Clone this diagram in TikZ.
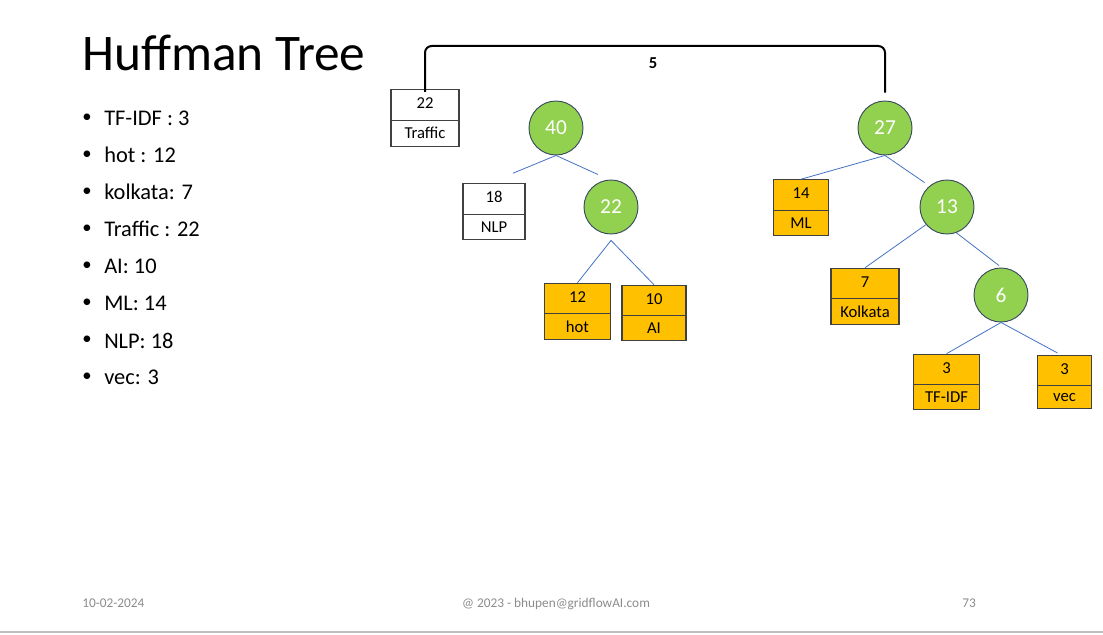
\documentclass[tikz,border=0pt]{standalone}
\usepackage{fontspec}
\setmainfont{Carlito}
\usetikzlibrary{shapes.multipart, calc}
\definecolor{LeafGold}{HTML}{FFC000}
\definecolor{NodeGreen}{HTML}{92D050}
\definecolor{EdgeBlue}{HTML}{4472C4}
\definecolor{RimDark}{HTML}{3A4A60}
\definecolor{FootGray}{HTML}{8C8C8C}

\tikzset{
  inner/.style={circle, draw=RimDark, line width=0.7pt, fill=NodeGreen, minimum size=40.5pt,
    inner sep=0pt, text=white, font=\fontsize{16}{19}\selectfont},
  leaf/.style={rectangle split, rectangle split parts=2, draw=black!75, line width=0.8pt,
    fill=LeafGold, text width=#1, align=center, inner xsep=0pt, inner ysep=5pt,
    text height=9pt, text depth=3pt, font=\fontsize{12.5}{14}\selectfont},
  leaf/.default=48pt,
  plainleaf/.style={leaf=#1, fill=white},
  plainleaf/.default=48pt,
  edge/.style={EdgeBlue, line width=0.6pt},
  footer/.style={text=FootGray, inner sep=0pt, font=\fontsize{10}{12}\selectfont}
}

\begin{document}
\begin{tikzpicture}[x=0.75pt, y=-0.75pt]
    % Page
    \fill[white] (0,0) rectangle (1103,635);
    \useasboundingbox (0,0) rectangle (1103,635);
    \draw[black!25, line width=1pt] (0,632) -- (1103,632);

    % Title
    \node[anchor=west, inner sep=0pt, font=\fontsize{38.5}{42}\selectfont] (title) at (82,53) {Huffman Tree};

    % Frequency list
    \foreach \t [count=\i] in {TF-IDF : 3, hot : 12, kolkata: 7, Traffic : 22, AI: 10, ML: 14, NLP: 18, vec: 3} {
        \node[inner sep=0pt, font=\fontsize{14}{16}\selectfont] at (87, 118+37.1*\i-37.1) {\textbullet};
        \node[anchor=west, inner sep=0pt, font=\fontsize{16.8}{19}\selectfont] at (104, 118+37.1*\i-37.1) {\t};
    }

    % Left subtree
    \node[plainleaf=51pt] (traffic) at (425,118) {22\nodepart{two}Traffic};
    \node[inner] (n40) at (556,128) {40};
    \node[plainleaf=46.5pt] (nlp) at (494,211.5) {18\nodepart{two}NLP};
    \node[inner] (n22) at (611,207) {22};
    \node[leaf=50pt] (hot) at (577.5,311.5) {12\nodepart{two}hot};
    \node[leaf=48pt] (ai) at (654,313) {10\nodepart{two}AI};

    % Right subtree
    \node[inner] (n27) at (885,128) {27};
    \node[leaf=41pt] (ml) at (801,207.5) {14\nodepart{two}ML};
    \node[inner] (n13) at (947,207) {13};
    \node[leaf=51pt] (kolkata) at (865,296.5) {7\nodepart{two}Kolkata};
    \node[inner] (n6) at (1001,295) {6};
    \node[leaf=50pt] (tfidf) at (946.5,382) {3\nodepart{two}TF-IDF};
    \node[leaf=41pt] (vec) at (1064.5,382) {3\nodepart{two}vec};

    % Branches
    \draw[edge] (n40.south) -- ([shift={(19,-10)}]nlp.north);
    \draw[edge] (n40.south) -- ([shift={(-13,-5)}]n22.north);
    \draw[edge] ([shift={(0,6)}]n22.south) -- (hot.north);
    \draw[edge] ([shift={(0,6)}]n22.south) -- (ai.north);
    \draw[edge] (n27.south) -- (ml.north);
    \draw[edge] (n27.south) -- ([shift={(-3,-5)}]n13.135);
    \draw[edge] (n13.220) -- (kolkata.north);
    \draw[edge] (n13.290) -- ([shift={(-2,-2)}]n6.north);
    \draw[edge] (n6.south) -- (tfidf.north);
    \draw[edge] (n6.south) -- ([shift={(-7,-2)}]vec.north);

    % Merge bracket
    \draw[line width=1.5pt, rounded corners=5pt] ([yshift=-2pt]traffic.north) -- (traffic.north |- 0,46)
        -- (n27.north |- 0,46) -- ([yshift=6pt]n27.north);
    \node[font=\bfseries\fontsize{12.5}{15}\selectfont] (merge) at (653,63) {5};

    % Footer
    \node[footer, anchor=base west] (date) at (82,607) {10-02-2024};
    \node[footer, anchor=base] (credit) at (556,607) {@ 2023 - bhupen@gridflowAI.com};
    \node[footer, anchor=base] (page) at (969,607) {73};
\end{tikzpicture}
\end{document}
